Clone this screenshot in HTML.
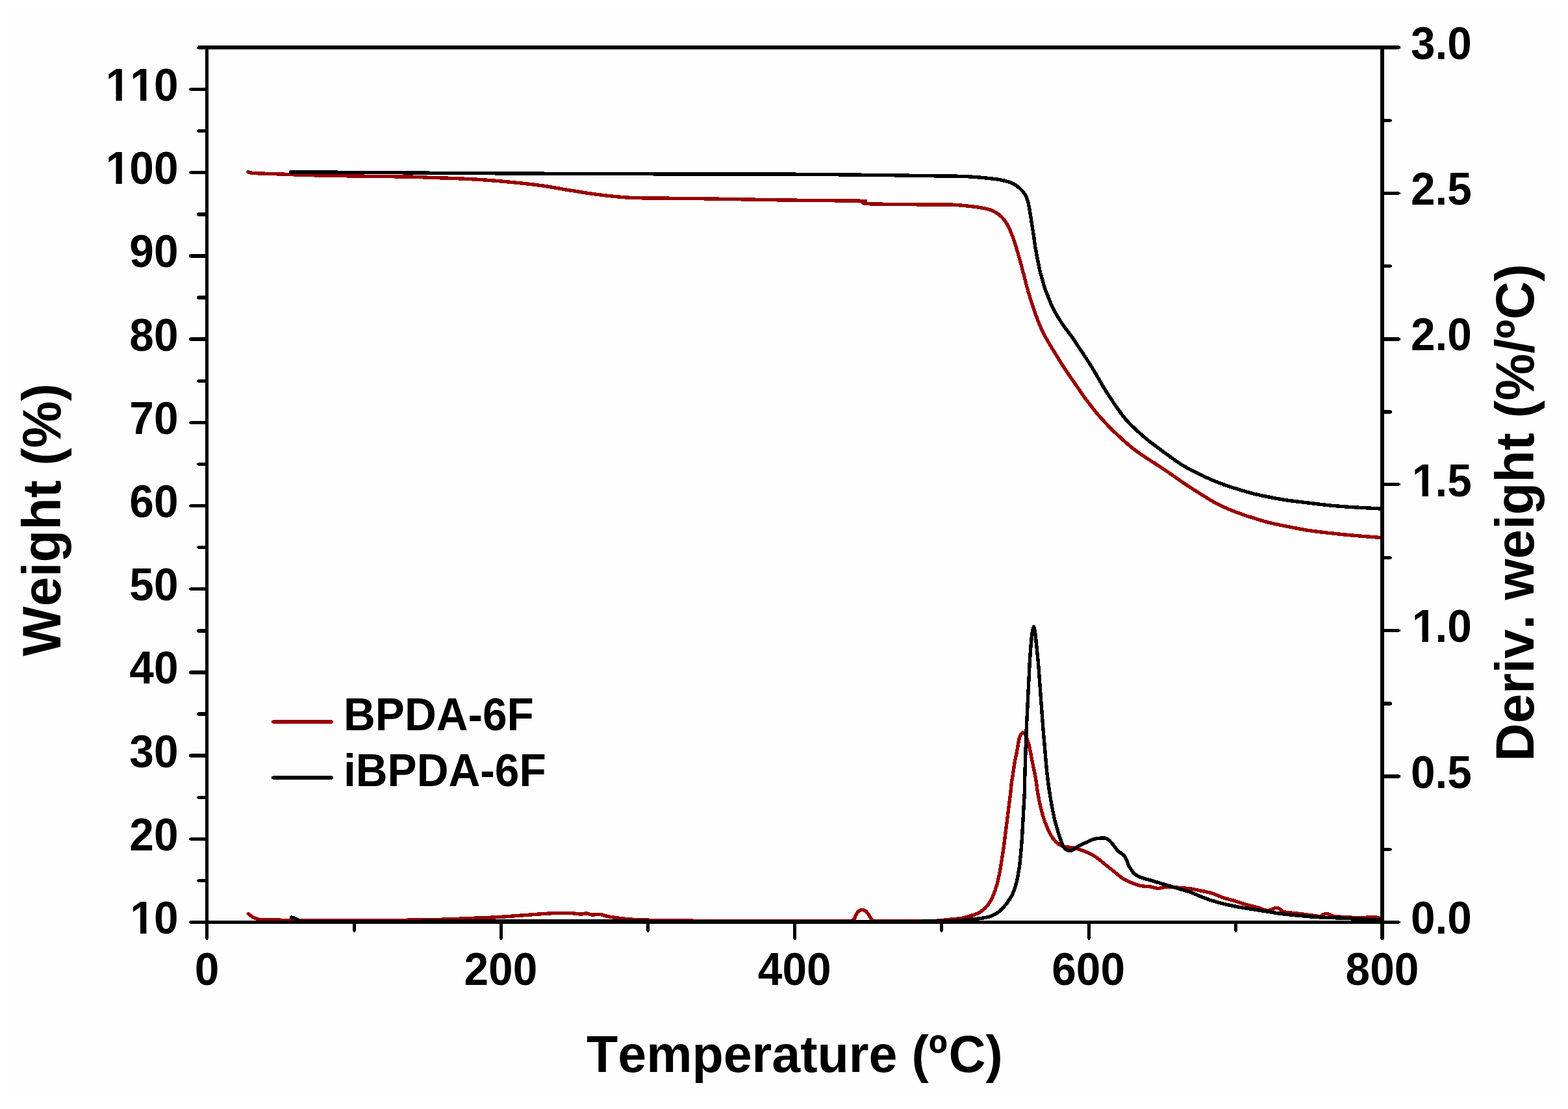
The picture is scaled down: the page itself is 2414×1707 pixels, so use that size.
<!DOCTYPE html>
<html lang="en"><head><meta charset="utf-8"><title>TGA / DTG curves of BPDA-6F and iBPDA-6F</title>
<style>
html,body{margin:0;padding:0;background:#fff;}
body{width:2414px;height:1707px;overflow:hidden;}
svg{display:block;}
svg text{font-family:"Liberation Sans",Arial,Helvetica,sans-serif;font-weight:bold;fill:#000;font-kerning:none;font-variant-ligatures:none;}
.tk{font-size:67.6px;}
.ti{font-size:80px;}
.ax{stroke:#000;stroke-width:5.4;fill:none;}
.cv{fill:none;stroke-width:5.4;stroke-linejoin:round;stroke-linecap:round;}
</style></head><body>
<svg width="2414" height="1707" viewBox="0 0 2414 1707">
<rect x="0" y="0" width="2414" height="1707" fill="#ffffff"/>
<rect x="12" y="19" width="2390" height="1669" fill="#fefefe"/>
<defs><clipPath id="plot"><rect x="318.5" y="73.0" width="1809.5" height="1349.5"/></clipPath></defs>
<g clip-path="url(#plot)" shape-rendering="crispEdges">
<path class="cv" stroke="#990000" d="M382.0 264.6 C382.3 264.8 383.0 265.3 384.0 265.6 C385.0 265.9 386.5 266.0 388.0 266.2 C389.5 266.4 390.2 266.5 393.0 266.6 C395.8 266.8 398.5 266.9 405.0 267.1 C411.5 267.3 422.8 267.7 432.0 268.0 C441.2 268.3 449.5 268.8 460.0 269.1 C470.5 269.5 477.2 269.7 495.0 270.1 C512.8 270.5 543.5 271.0 567.0 271.3 C590.5 271.6 620.5 271.9 636.0 272.2 C651.5 272.5 648.7 272.9 660.0 273.3 C671.3 273.7 689.1 274.1 703.6 274.7 C718.1 275.3 732.5 276.0 747.0 277.0 C761.5 278.0 776.2 279.4 790.7 280.8 C805.2 282.2 819.5 283.7 834.0 285.7 C848.5 287.7 863.3 290.7 877.8 293.0 C892.3 295.3 906.5 297.8 921.0 299.6 C935.5 301.4 950.5 303.1 965.0 304.0 C979.5 304.9 992.2 304.9 1008.0 305.1 C1023.8 305.3 1039.7 305.1 1060.0 305.4 C1080.3 305.6 1105.5 306.2 1130.0 306.6 C1154.5 307.0 1174.8 307.6 1207.0 308.0 C1239.2 308.4 1303.7 308.9 1323.5 309.2 C1343.3 309.5 1325.1 309.4 1326.0 310.0 C1326.9 310.6 1328.0 312.1 1329.0 312.6 C1330.0 313.2 1328.5 313.1 1332.0 313.3 C1335.5 313.6 1333.7 313.8 1350.0 314.1 C1366.3 314.4 1410.6 314.8 1430.0 315.0 C1449.4 315.2 1455.7 314.8 1466.6 315.2 C1477.5 315.6 1487.2 316.8 1495.3 317.7 C1503.3 318.6 1509.5 319.5 1514.9 320.6 C1520.4 321.7 1524.1 322.6 1528.0 324.3 C1531.9 326.0 1535.2 328.1 1538.5 330.8 C1541.8 333.5 1545.0 337.0 1547.6 340.6 C1550.2 344.2 1552.1 348.3 1554.1 352.4 C1556.1 356.5 1557.7 360.6 1559.4 365.4 C1561.2 370.2 1563.0 375.9 1564.6 381.1 C1566.2 386.3 1567.7 391.4 1569.2 396.8 C1570.7 402.2 1572.2 408.1 1573.7 413.8 C1575.2 419.5 1577.2 426.4 1578.3 430.8 C1579.4 435.2 1579.4 435.9 1580.5 440.0 C1581.6 444.1 1583.3 450.0 1585.1 455.7 C1586.8 461.4 1588.9 467.9 1591.0 474.0 C1593.1 480.1 1595.1 486.2 1597.5 492.3 C1599.9 498.4 1602.5 504.7 1605.3 510.6 C1608.1 516.5 1611.2 521.9 1614.5 527.5 C1617.8 533.1 1621.4 538.8 1624.9 544.5 C1628.4 550.2 1631.9 556.0 1635.4 561.5 C1638.9 567.0 1642.1 571.8 1645.8 577.2 C1649.5 582.7 1653.7 588.5 1657.6 594.2 C1661.5 599.9 1665.3 605.5 1669.4 611.2 C1673.5 616.9 1679.0 623.8 1682.4 628.2 C1685.8 632.6 1686.5 633.8 1690.0 637.8 C1693.5 641.8 1698.8 647.6 1703.1 652.2 C1707.4 656.8 1709.6 659.2 1716.1 665.3 C1722.6 671.4 1733.6 681.8 1742.3 688.8 C1751.0 695.8 1759.7 701.2 1768.4 707.1 C1777.1 713.0 1785.8 718.2 1794.5 724.1 C1803.2 730.0 1812.0 736.5 1820.7 742.4 C1829.4 748.3 1838.1 754.0 1846.8 759.4 C1855.5 764.8 1864.2 770.4 1872.9 775.0 C1881.6 779.6 1890.4 783.3 1899.1 786.8 C1907.8 790.3 1916.5 793.1 1925.2 795.9 C1933.9 798.7 1942.2 801.4 1951.3 803.8 C1960.4 806.1 1969.4 807.9 1980.0 810.0 C1990.6 812.1 2003.2 814.7 2014.8 816.5 C2026.4 818.3 2038.1 819.5 2049.7 820.8 C2061.3 822.1 2071.8 823.2 2084.5 824.3 C2097.2 825.4 2119.1 827.0 2126.0 827.5"/>
<path class="cv" stroke="#990000" d="M382.3 1406.5 C382.9 1407.0 384.6 1408.5 386.0 1409.5 C387.4 1410.5 389.0 1411.6 391.0 1412.5 C393.0 1413.4 394.8 1414.4 398.0 1415.0 C401.2 1415.6 401.3 1415.8 410.0 1416.0 C418.7 1416.2 431.7 1416.2 450.0 1416.3 C468.3 1416.4 495.0 1416.6 520.0 1416.6 C545.0 1416.6 573.3 1416.7 600.0 1416.5 C626.7 1416.3 660.0 1415.7 680.0 1415.2 C700.0 1414.7 706.1 1414.2 720.0 1413.6 C733.9 1413.0 749.1 1412.6 763.6 1411.8 C778.1 1411.0 792.5 1409.7 807.0 1408.7 C821.5 1407.7 839.1 1406.2 850.7 1405.7 C862.3 1405.2 869.6 1405.2 876.8 1405.4 C884.0 1405.6 889.6 1406.9 894.0 1407.0 C898.4 1407.1 900.1 1405.7 903.0 1405.9 C905.9 1406.1 908.1 1407.7 911.6 1408.0 C915.1 1408.3 919.4 1407.0 923.8 1407.5 C928.2 1408.0 931.1 1409.8 937.8 1411.0 C944.5 1412.2 953.9 1413.5 964.0 1414.4 C974.1 1415.3 976.0 1415.7 998.7 1416.2 C1021.4 1416.7 1066.5 1417.3 1100.0 1417.5 C1133.5 1417.7 1166.7 1417.6 1200.0 1417.6 C1233.3 1417.6 1281.0 1417.9 1300.0 1417.6 C1319.0 1417.2 1310.8 1417.1 1313.8 1415.5 C1316.8 1413.9 1316.6 1410.2 1318.0 1408.0 C1319.4 1405.8 1320.4 1403.8 1322.0 1402.5 C1323.6 1401.2 1326.0 1400.5 1327.8 1400.5 C1329.6 1400.5 1331.4 1401.2 1333.0 1402.5 C1334.6 1403.8 1336.0 1405.9 1337.5 1408.0 C1339.0 1410.1 1340.2 1413.6 1342.0 1415.2 C1343.8 1416.8 1338.3 1417.0 1348.0 1417.4 C1357.7 1417.8 1384.5 1417.6 1400.0 1417.6 C1415.5 1417.6 1431.0 1417.7 1441.0 1417.3 C1451.0 1416.9 1453.5 1416.1 1460.0 1415.4 C1466.5 1414.8 1474.5 1414.3 1480.0 1413.4 C1485.5 1412.5 1488.8 1411.4 1493.1 1410.1 C1497.4 1408.8 1502.4 1407.3 1506.1 1405.5 C1509.8 1403.7 1512.5 1401.6 1515.3 1399.0 C1518.1 1396.4 1520.7 1393.6 1523.1 1389.9 C1525.5 1386.2 1527.7 1381.6 1529.7 1376.8 C1531.7 1372.0 1533.4 1366.5 1534.9 1361.1 C1536.4 1355.6 1537.6 1350.2 1538.8 1344.1 C1540.0 1338.0 1541.0 1331.2 1542.1 1324.5 C1543.2 1317.8 1544.3 1310.6 1545.3 1303.6 C1546.3 1296.6 1547.0 1289.7 1547.9 1282.7 C1548.8 1275.7 1549.7 1268.8 1550.6 1261.8 C1551.5 1254.8 1552.3 1247.9 1553.2 1240.9 C1554.1 1233.9 1555.2 1225.4 1555.8 1220.0 C1556.4 1214.6 1556.3 1213.4 1556.9 1208.6 C1557.5 1203.8 1558.6 1197.2 1559.5 1191.4 C1560.4 1185.7 1561.1 1179.8 1562.1 1174.1 C1563.1 1168.3 1564.3 1163.0 1565.5 1156.9 C1566.7 1150.8 1567.9 1142.0 1569.0 1137.5 C1570.1 1133.0 1571.0 1131.6 1572.0 1130.0 C1573.0 1128.4 1574.0 1128.0 1575.0 1128.0 C1576.0 1128.0 1577.0 1128.6 1578.0 1130.0 C1579.0 1131.4 1579.9 1133.5 1581.0 1136.5 C1582.1 1139.5 1583.3 1143.5 1584.5 1148.3 C1585.7 1153.1 1586.8 1159.8 1587.9 1165.5 C1589.1 1171.2 1590.2 1177.0 1591.4 1182.8 C1592.6 1188.5 1593.8 1193.8 1594.8 1200.0 C1595.8 1206.2 1596.5 1213.4 1597.6 1220.0 C1598.7 1226.6 1600.0 1233.1 1601.5 1239.6 C1603.0 1246.1 1604.7 1253.1 1606.7 1259.2 C1608.7 1265.3 1610.9 1271.0 1613.3 1276.2 C1615.7 1281.4 1618.3 1286.7 1621.1 1290.6 C1623.9 1294.5 1627.0 1297.5 1630.3 1299.7 C1633.6 1301.9 1637.0 1302.7 1640.7 1303.6 C1644.4 1304.5 1648.4 1304.0 1652.5 1304.9 C1656.6 1305.8 1661.2 1307.4 1665.5 1308.9 C1669.8 1310.4 1674.7 1312.1 1678.6 1314.1 C1682.5 1316.0 1685.2 1317.8 1689.1 1320.6 C1693.0 1323.4 1697.8 1327.6 1702.1 1331.1 C1706.4 1334.6 1710.8 1338.0 1715.2 1341.5 C1719.6 1345.0 1724.1 1349.2 1728.3 1352.0 C1732.5 1354.8 1735.9 1356.3 1740.5 1358.2 C1745.1 1360.1 1750.9 1362.4 1756.1 1363.5 C1761.3 1364.6 1767.4 1364.3 1771.8 1365.0 C1776.2 1365.7 1779.2 1367.2 1782.3 1367.4 C1785.3 1367.6 1787.5 1366.4 1790.1 1366.1 C1792.7 1365.8 1793.2 1365.2 1798.0 1365.3 C1802.8 1365.4 1812.8 1366.1 1818.9 1366.6 C1825.0 1367.1 1829.3 1367.4 1834.5 1368.2 C1839.7 1369.0 1844.8 1370.2 1850.0 1371.3 C1855.2 1372.4 1860.3 1373.2 1865.8 1374.9 C1871.3 1376.7 1877.4 1379.8 1883.2 1381.8 C1889.0 1383.8 1894.9 1384.8 1900.7 1386.6 C1906.5 1388.3 1912.3 1390.6 1918.1 1392.3 C1923.9 1394.0 1930.2 1395.2 1935.5 1396.7 C1940.8 1398.2 1946.4 1400.7 1950.0 1401.3 C1953.6 1401.9 1954.5 1400.9 1957.0 1400.2 C1959.5 1399.5 1962.6 1397.3 1964.9 1397.2 C1967.2 1397.1 1968.9 1398.6 1971.0 1399.7 C1973.1 1400.8 1972.5 1402.7 1977.3 1403.8 C1982.1 1404.9 1991.8 1405.3 1999.7 1406.3 C2007.6 1407.3 2019.0 1408.9 2024.5 1409.6 C2030.0 1410.3 2030.7 1410.7 2032.8 1410.4 C2034.9 1410.1 2035.5 1408.4 2037.0 1407.7 C2038.5 1407.0 2040.2 1406.3 2041.9 1406.3 C2043.6 1406.3 2045.1 1407.0 2047.0 1407.7 C2048.9 1408.4 2049.0 1409.7 2053.5 1410.4 C2058.0 1411.1 2067.3 1411.3 2074.2 1411.7 C2081.1 1412.1 2088.3 1413.0 2094.9 1412.9 C2101.5 1412.8 2108.7 1411.2 2113.9 1411.3 C2119.1 1411.4 2124.0 1413.3 2126.0 1413.7"/>
<path class="cv" stroke="#000" d="M447.3 265.0 C459.4 265.0 494.6 265.1 520.0 265.2 C545.5 265.3 575.0 265.4 600.0 265.6 C625.0 265.8 643.3 266.1 670.0 266.3 C696.7 266.5 721.7 266.6 760.0 266.8 C798.3 267.0 851.7 267.3 900.0 267.5 C948.3 267.7 1000.0 267.8 1050.0 267.9 C1100.0 268.0 1160.0 267.9 1200.0 268.0 C1240.0 268.1 1261.7 268.5 1290.0 268.8 C1318.3 269.1 1346.7 269.4 1370.0 269.7 C1393.3 270.0 1411.3 270.4 1430.0 270.7 C1448.7 271.0 1469.2 271.0 1482.3 271.4 C1495.4 271.8 1499.7 272.4 1508.4 273.1 C1517.1 273.9 1528.0 275.0 1534.5 275.9 C1541.0 276.8 1543.2 277.3 1547.6 278.5 C1552.0 279.7 1556.8 281.0 1560.7 283.1 C1564.6 285.2 1568.3 288.4 1571.1 291.0 C1573.9 293.6 1575.8 295.8 1577.7 298.8 C1579.6 301.9 1581.0 305.6 1582.2 309.3 C1583.4 313.0 1583.8 315.6 1584.8 321.0 C1585.8 326.4 1587.0 334.9 1588.1 341.9 C1589.2 348.9 1590.4 356.3 1591.4 362.8 C1592.4 369.3 1592.9 374.6 1594.0 381.1 C1595.1 387.6 1596.7 395.9 1597.9 402.0 C1599.1 408.1 1599.9 412.5 1601.2 417.7 C1602.5 422.9 1604.7 429.7 1605.7 433.4 C1606.7 437.1 1606.0 436.3 1607.3 440.0 C1608.5 443.7 1611.1 450.5 1613.2 455.7 C1615.3 460.9 1617.1 466.0 1619.7 471.4 C1622.3 476.8 1625.6 482.9 1628.9 488.3 C1632.2 493.7 1635.6 498.8 1639.3 504.0 C1643.0 509.2 1647.4 514.5 1651.1 519.7 C1654.8 524.9 1658.0 530.2 1661.5 535.4 C1665.0 540.6 1668.7 546.1 1672.0 551.1 C1675.3 556.1 1678.0 560.4 1681.1 565.4 C1684.1 570.4 1687.2 575.9 1690.3 581.1 C1693.3 586.3 1696.4 591.8 1699.4 596.8 C1702.5 601.8 1704.9 605.7 1708.6 611.2 C1712.3 616.7 1717.1 624.0 1721.4 630.0 C1725.7 636.0 1729.8 641.8 1734.4 647.0 C1739.0 652.2 1743.1 656.2 1748.8 661.4 C1754.5 666.6 1760.8 672.2 1768.4 678.3 C1776.0 684.4 1785.8 691.6 1794.5 697.9 C1803.2 704.2 1812.0 710.9 1820.7 716.2 C1829.4 721.6 1838.1 725.8 1846.8 730.0 C1855.5 734.2 1864.2 738.2 1872.9 741.7 C1881.6 745.2 1890.4 748.1 1899.1 750.9 C1907.8 753.7 1916.5 756.4 1925.2 758.7 C1933.9 761.0 1942.2 762.8 1951.3 764.6 C1960.4 766.5 1969.4 768.2 1980.0 769.8 C1990.6 771.4 2003.2 772.7 2014.8 774.1 C2026.4 775.5 2038.1 777.1 2049.7 778.2 C2061.3 779.3 2071.8 780.0 2084.5 780.8 C2097.2 781.6 2119.1 782.6 2126.0 783.0"/>
<path class="cv" stroke="#000" d="M448.5 1412.0 C449.1 1412.1 450.8 1412.2 452.0 1412.6 C453.2 1413.0 454.3 1413.7 456.0 1414.5 C457.7 1415.3 459.7 1417.0 462.0 1417.6 C464.3 1418.2 447.0 1418.2 470.0 1418.3 C493.0 1418.4 545.0 1418.3 600.0 1418.3 C655.0 1418.2 733.3 1418.0 800.0 1418.0 C866.7 1418.0 933.3 1418.2 1000.0 1418.2 C1066.7 1418.2 1133.3 1418.3 1200.0 1418.3 C1266.7 1418.3 1356.7 1418.4 1400.0 1418.3 C1443.3 1418.2 1446.7 1417.9 1460.0 1417.6 C1473.3 1417.3 1472.3 1417.0 1480.0 1416.4 C1487.7 1415.8 1499.1 1414.8 1506.1 1414.0 C1513.1 1413.2 1517.0 1412.8 1521.8 1411.4 C1526.6 1410.0 1531.0 1408.0 1534.9 1405.5 C1538.8 1403.0 1542.2 1399.7 1545.3 1396.4 C1548.3 1393.1 1550.8 1389.6 1553.2 1385.9 C1555.6 1382.2 1557.8 1378.8 1559.7 1374.2 C1561.7 1369.6 1563.4 1364.6 1564.9 1358.5 C1566.4 1352.4 1567.8 1345.0 1568.9 1337.6 C1570.0 1330.2 1570.8 1321.9 1571.5 1314.1 C1572.2 1306.3 1572.9 1298.4 1573.4 1290.6 C1573.9 1282.8 1574.3 1274.8 1574.7 1267.0 C1575.1 1259.2 1575.6 1251.3 1576.0 1243.5 C1576.4 1235.7 1577.0 1228.7 1577.3 1220.0 C1577.6 1211.3 1577.6 1201.9 1577.9 1191.4 C1578.2 1180.9 1578.6 1168.4 1579.0 1156.9 C1579.4 1145.4 1579.7 1133.9 1580.2 1122.4 C1580.7 1110.9 1581.3 1099.4 1581.9 1087.9 C1582.5 1076.4 1583.0 1064.9 1583.6 1053.4 C1584.2 1041.9 1584.6 1030.5 1585.3 1019.0 C1586.0 1007.5 1587.2 992.6 1587.9 984.5 C1588.6 976.4 1589.0 973.8 1589.6 970.5 C1590.2 967.2 1590.8 964.8 1591.4 964.8 C1592.0 964.8 1592.6 967.2 1593.2 970.5 C1593.8 973.8 1594.0 976.4 1594.8 984.5 C1595.6 992.6 1597.3 1007.5 1598.3 1019.0 C1599.3 1030.5 1600.1 1041.9 1600.9 1053.4 C1601.8 1064.9 1602.6 1076.4 1603.4 1087.9 C1604.2 1099.4 1605.1 1110.9 1606.0 1122.4 C1606.9 1133.9 1608.0 1145.4 1609.0 1156.9 C1610.0 1168.4 1610.9 1180.9 1612.1 1191.4 C1613.2 1201.9 1614.7 1212.0 1615.9 1220.0 C1617.1 1228.0 1618.0 1233.1 1619.2 1239.6 C1620.4 1246.1 1621.7 1253.1 1623.1 1259.2 C1624.5 1265.3 1626.2 1271.0 1627.7 1276.2 C1629.2 1281.4 1630.7 1286.2 1632.2 1290.6 C1633.7 1294.9 1635.2 1299.4 1636.8 1302.3 C1638.4 1305.2 1639.8 1307.1 1642.0 1308.2 C1644.2 1309.3 1647.5 1309.6 1649.9 1309.1 C1652.3 1308.5 1653.8 1306.5 1656.4 1304.9 C1659.0 1303.3 1662.2 1301.3 1665.5 1299.7 C1668.8 1298.1 1673.0 1296.4 1676.0 1295.1 C1679.0 1293.8 1681.2 1292.4 1683.8 1291.6 C1686.4 1290.8 1688.7 1290.5 1691.7 1290.3 C1694.8 1290.1 1699.3 1289.6 1702.1 1290.3 C1704.9 1291.0 1706.5 1292.5 1708.7 1294.5 C1710.9 1296.5 1713.0 1299.7 1715.2 1302.3 C1717.4 1304.9 1719.1 1307.7 1721.7 1310.2 C1724.3 1312.7 1728.6 1314.6 1730.9 1317.3 C1733.2 1320.0 1734.3 1324.0 1735.5 1326.5 C1736.7 1329.0 1736.1 1329.7 1737.8 1332.6 C1739.5 1335.5 1742.7 1341.1 1745.7 1344.1 C1748.8 1347.1 1751.8 1348.6 1756.1 1350.4 C1760.4 1352.2 1766.6 1353.5 1771.8 1355.1 C1777.0 1356.7 1782.3 1358.2 1787.5 1359.8 C1792.7 1361.4 1798.0 1362.9 1803.2 1364.5 C1808.4 1366.1 1813.7 1367.6 1818.9 1369.2 C1824.1 1370.8 1829.3 1372.0 1834.5 1373.9 C1839.7 1375.8 1843.3 1378.1 1850.0 1380.6 C1856.7 1383.1 1866.0 1386.4 1874.5 1388.8 C1883.0 1391.2 1892.0 1393.2 1900.7 1394.9 C1909.4 1396.7 1918.6 1398.0 1926.8 1399.3 C1935.0 1400.6 1942.0 1401.8 1950.0 1403.0 C1958.0 1404.2 1966.5 1405.8 1974.8 1406.8 C1983.1 1407.8 1991.4 1408.5 1999.7 1409.3 C2008.0 1410.1 2016.2 1410.9 2024.5 1411.4 C2032.8 1412.0 2041.0 1412.2 2049.3 1412.6 C2057.6 1412.9 2065.9 1413.1 2074.2 1413.5 C2082.5 1413.9 2090.4 1414.7 2099.0 1415.1 C2107.6 1415.5 2121.5 1415.8 2126.0 1416.0"/>
</g>
<g class="ax" shape-rendering="crispEdges">
<line x1="305.3" y1="73.00" x2="2153.7" y2="73.00"/>
<line x1="2153.7" y1="73.00" x2="2155.7" y2="73.00" stroke-width="3.4000000000000004"/>
<line x1="318.5" y1="1419.50" x2="2128.0" y2="1419.50"/>
<line x1="318.50" y1="73.0" x2="318.50" y2="1419.5"/>
<line x1="2128.00" y1="73.0" x2="2128.00" y2="1419.5"/>
<line x1="318.5" y1="137.50" x2="292.8" y2="137.50"/>
<line x1="292.8" y1="137.50" x2="290.8" y2="137.50" stroke-width="3.4000000000000004"/>
<line x1="318.5" y1="265.70" x2="292.8" y2="265.70"/>
<line x1="292.8" y1="265.70" x2="290.8" y2="265.70" stroke-width="3.4000000000000004"/>
<line x1="318.5" y1="393.90" x2="292.8" y2="393.90"/>
<line x1="292.8" y1="393.90" x2="290.8" y2="393.90" stroke-width="3.4000000000000004"/>
<line x1="318.5" y1="522.10" x2="292.8" y2="522.10"/>
<line x1="292.8" y1="522.10" x2="290.8" y2="522.10" stroke-width="3.4000000000000004"/>
<line x1="318.5" y1="650.30" x2="292.8" y2="650.30"/>
<line x1="292.8" y1="650.30" x2="290.8" y2="650.30" stroke-width="3.4000000000000004"/>
<line x1="318.5" y1="778.50" x2="292.8" y2="778.50"/>
<line x1="292.8" y1="778.50" x2="290.8" y2="778.50" stroke-width="3.4000000000000004"/>
<line x1="318.5" y1="906.70" x2="292.8" y2="906.70"/>
<line x1="292.8" y1="906.70" x2="290.8" y2="906.70" stroke-width="3.4000000000000004"/>
<line x1="318.5" y1="1034.90" x2="292.8" y2="1034.90"/>
<line x1="292.8" y1="1034.90" x2="290.8" y2="1034.90" stroke-width="3.4000000000000004"/>
<line x1="318.5" y1="1163.10" x2="292.8" y2="1163.10"/>
<line x1="292.8" y1="1163.10" x2="290.8" y2="1163.10" stroke-width="3.4000000000000004"/>
<line x1="318.5" y1="1291.30" x2="292.8" y2="1291.30"/>
<line x1="292.8" y1="1291.30" x2="290.8" y2="1291.30" stroke-width="3.4000000000000004"/>
<line x1="318.5" y1="1419.50" x2="292.8" y2="1419.50"/>
<line x1="292.8" y1="1419.50" x2="290.8" y2="1419.50" stroke-width="3.4000000000000004"/>
<line x1="318.5" y1="73.40" x2="305.3" y2="73.40"/>
<line x1="305.3" y1="73.40" x2="303.3" y2="73.40" stroke-width="3.4000000000000004"/>
<line x1="318.5" y1="201.60" x2="305.3" y2="201.60"/>
<line x1="305.3" y1="201.60" x2="303.3" y2="201.60" stroke-width="3.4000000000000004"/>
<line x1="318.5" y1="329.80" x2="305.3" y2="329.80"/>
<line x1="305.3" y1="329.80" x2="303.3" y2="329.80" stroke-width="3.4000000000000004"/>
<line x1="318.5" y1="458.00" x2="305.3" y2="458.00"/>
<line x1="305.3" y1="458.00" x2="303.3" y2="458.00" stroke-width="3.4000000000000004"/>
<line x1="318.5" y1="586.20" x2="305.3" y2="586.20"/>
<line x1="305.3" y1="586.20" x2="303.3" y2="586.20" stroke-width="3.4000000000000004"/>
<line x1="318.5" y1="714.40" x2="305.3" y2="714.40"/>
<line x1="305.3" y1="714.40" x2="303.3" y2="714.40" stroke-width="3.4000000000000004"/>
<line x1="318.5" y1="842.60" x2="305.3" y2="842.60"/>
<line x1="305.3" y1="842.60" x2="303.3" y2="842.60" stroke-width="3.4000000000000004"/>
<line x1="318.5" y1="970.80" x2="305.3" y2="970.80"/>
<line x1="305.3" y1="970.80" x2="303.3" y2="970.80" stroke-width="3.4000000000000004"/>
<line x1="318.5" y1="1099.00" x2="305.3" y2="1099.00"/>
<line x1="305.3" y1="1099.00" x2="303.3" y2="1099.00" stroke-width="3.4000000000000004"/>
<line x1="318.5" y1="1227.20" x2="305.3" y2="1227.20"/>
<line x1="305.3" y1="1227.20" x2="303.3" y2="1227.20" stroke-width="3.4000000000000004"/>
<line x1="318.5" y1="1355.40" x2="305.3" y2="1355.40"/>
<line x1="305.3" y1="1355.40" x2="303.3" y2="1355.40" stroke-width="3.4000000000000004"/>
<line x1="2128.0" y1="1419.50" x2="2153.7" y2="1419.50"/>
<line x1="2153.7" y1="1419.50" x2="2155.7" y2="1419.50" stroke-width="3.4000000000000004"/>
<line x1="2128.0" y1="1195.08" x2="2153.7" y2="1195.08"/>
<line x1="2153.7" y1="1195.08" x2="2155.7" y2="1195.08" stroke-width="3.4000000000000004"/>
<line x1="2128.0" y1="970.67" x2="2153.7" y2="970.67"/>
<line x1="2153.7" y1="970.67" x2="2155.7" y2="970.67" stroke-width="3.4000000000000004"/>
<line x1="2128.0" y1="745.35" x2="2153.7" y2="745.35"/>
<line x1="2153.7" y1="745.35" x2="2155.7" y2="745.35" stroke-width="3.4000000000000004"/>
<line x1="2128.0" y1="521.83" x2="2153.7" y2="521.83"/>
<line x1="2153.7" y1="521.83" x2="2155.7" y2="521.83" stroke-width="3.4000000000000004"/>
<line x1="2128.0" y1="297.42" x2="2153.7" y2="297.42"/>
<line x1="2153.7" y1="297.42" x2="2155.7" y2="297.42" stroke-width="3.4000000000000004"/>
<line x1="2128.0" y1="1307.29" x2="2141.2" y2="1307.29"/>
<line x1="2141.2" y1="1307.29" x2="2143.2" y2="1307.29" stroke-width="3.4000000000000004"/>
<line x1="2128.0" y1="1082.88" x2="2141.2" y2="1082.88"/>
<line x1="2141.2" y1="1082.88" x2="2143.2" y2="1082.88" stroke-width="3.4000000000000004"/>
<line x1="2128.0" y1="858.46" x2="2141.2" y2="858.46"/>
<line x1="2141.2" y1="858.46" x2="2143.2" y2="858.46" stroke-width="3.4000000000000004"/>
<line x1="2128.0" y1="634.04" x2="2141.2" y2="634.04"/>
<line x1="2141.2" y1="634.04" x2="2143.2" y2="634.04" stroke-width="3.4000000000000004"/>
<line x1="2128.0" y1="409.62" x2="2141.2" y2="409.62"/>
<line x1="2141.2" y1="409.62" x2="2143.2" y2="409.62" stroke-width="3.4000000000000004"/>
<line x1="2128.0" y1="185.21" x2="2141.2" y2="185.21"/>
<line x1="2141.2" y1="185.21" x2="2143.2" y2="185.21" stroke-width="3.4000000000000004"/>
<line x1="318.50" y1="1419.5" x2="318.50" y2="1445.2"/>
<line x1="318.50" y1="1445.2" x2="318.50" y2="1447.2" stroke-width="3.4000000000000004"/>
<line x1="771.50" y1="1419.5" x2="771.50" y2="1445.2" stroke-width="5"/>
<line x1="771.50" y1="1445.2" x2="771.50" y2="1447.2" stroke-width="3"/>
<line x1="1223.50" y1="1419.5" x2="1223.50" y2="1445.2" stroke-width="5"/>
<line x1="1223.50" y1="1445.2" x2="1223.50" y2="1447.2" stroke-width="3"/>
<line x1="1676.50" y1="1419.5" x2="1676.50" y2="1445.2" stroke-width="5"/>
<line x1="1676.50" y1="1445.2" x2="1676.50" y2="1447.2" stroke-width="3"/>
<line x1="2128.00" y1="1419.5" x2="2128.00" y2="1445.2"/>
<line x1="2128.00" y1="1445.2" x2="2128.00" y2="1447.2" stroke-width="3.4000000000000004"/>
<line x1="545.50" y1="1419.5" x2="545.50" y2="1432.7" stroke-width="5"/>
<line x1="545.50" y1="1432.7" x2="545.50" y2="1434.7" stroke-width="3"/>
<line x1="997.50" y1="1419.5" x2="997.50" y2="1432.7" stroke-width="5"/>
<line x1="997.50" y1="1432.7" x2="997.50" y2="1434.7" stroke-width="3"/>
<line x1="1449.50" y1="1419.5" x2="1449.50" y2="1432.7" stroke-width="5"/>
<line x1="1449.50" y1="1432.7" x2="1449.50" y2="1434.7" stroke-width="3"/>
<line x1="1902.50" y1="1419.5" x2="1902.50" y2="1432.7" stroke-width="5"/>
<line x1="1902.50" y1="1432.7" x2="1902.50" y2="1434.7" stroke-width="3"/>
</g>
<text class="tk" transform="translate(0 155.00) scale(1 1.035)" x="162.71 200.31 236.90">110</text>
<rect x="165.47" y="146.56" width="13.02" height="9.94" fill="#fefefe"/>
<rect x="187.77" y="146.56" width="12.16" height="9.94" fill="#fefefe"/>
<rect x="203.07" y="146.56" width="13.02" height="9.94" fill="#fefefe"/>
<rect x="225.36" y="146.56" width="12.16" height="9.94" fill="#fefefe"/>
<text class="tk" transform="translate(0 283.20) scale(1 1.035)" x="162.71 199.31 236.90">100</text>
<rect x="165.47" y="274.76" width="13.02" height="9.94" fill="#fefefe"/>
<rect x="187.77" y="274.76" width="12.16" height="9.94" fill="#fefefe"/>
<text class="tk" transform="translate(0 411.40) scale(1 1.035)" x="199.31 236.90">90</text>
<text class="tk" transform="translate(0 539.60) scale(1 1.035)" x="199.31 236.90">80</text>
<text class="tk" transform="translate(0 667.80) scale(1 1.035)" x="199.31 236.90">70</text>
<text class="tk" transform="translate(0 796.00) scale(1 1.035)" x="199.31 236.90">60</text>
<text class="tk" transform="translate(0 924.20) scale(1 1.035)" x="199.31 236.90">50</text>
<text class="tk" transform="translate(0 1052.40) scale(1 1.035)" x="199.31 236.90">40</text>
<text class="tk" transform="translate(0 1180.60) scale(1 1.035)" x="199.31 236.90">30</text>
<text class="tk" transform="translate(0 1308.80) scale(1 1.035)" x="199.31 236.90">20</text>
<text class="tk" transform="translate(0 1437.00) scale(1 1.035)" x="200.31 236.90">10</text>
<rect x="203.07" y="1428.56" width="13.02" height="9.94" fill="#fefefe"/>
<rect x="225.36" y="1428.56" width="12.16" height="9.94" fill="#fefefe"/>
<text class="tk" transform="translate(0 1437.00) scale(1 1.035)" x="2172.00 2209.60 2228.38">0.0</text>
<text class="tk" transform="translate(0 1212.58) scale(1 1.035)" x="2172.00 2209.60 2228.38">0.5</text>
<text class="tk" transform="translate(0 988.17) scale(1 1.035)" x="2173.80 2209.60 2228.38">1.0</text>
<rect x="2176.56" y="979.73" width="13.02" height="9.94" fill="#fefefe"/>
<rect x="2198.85" y="979.73" width="12.16" height="9.94" fill="#fefefe"/>
<text class="tk" transform="translate(0 763.75) scale(1 1.035)" x="2173.80 2209.60 2228.38">1.5</text>
<rect x="2176.56" y="755.31" width="13.02" height="9.94" fill="#fefefe"/>
<rect x="2198.85" y="755.31" width="12.16" height="9.94" fill="#fefefe"/>
<text class="tk" transform="translate(0 539.33) scale(1 1.035)" x="2172.00 2209.60 2228.38">2.0</text>
<text class="tk" transform="translate(0 314.92) scale(1 1.035)" x="2172.00 2209.60 2228.38">2.5</text>
<text class="tk" transform="translate(0 90.50) scale(1 1.035)" x="2172.00 2209.60 2228.38">3.0</text>
<text class="tk" transform="translate(318.50 1516.00) scale(1 1.035)" text-anchor="middle">0</text>
<text class="tk" transform="translate(770.88 1516.00) scale(1 1.035)" text-anchor="middle">200</text>
<text class="tk" transform="translate(1223.25 1516.00) scale(1 1.035)" text-anchor="middle">400</text>
<text class="tk" transform="translate(1675.62 1516.00) scale(1 1.035)" text-anchor="middle">600</text>
<text class="tk" transform="translate(2128.00 1516.00) scale(1 1.035)" text-anchor="middle">800</text>
<g fill="#990000" shape-rendering="crispEdges"><rect x="420" y="1108" width="91" height="6"/><rect x="418" y="1109" width="95" height="4"/></g>
<g fill="#000" shape-rendering="crispEdges"><rect x="420" y="1194" width="91" height="6"/><rect x="418" y="1195" width="95" height="4"/></g>
<text class="tk" transform="translate(529.00 1124.30) scale(1 1.035)" text-anchor="start">BPDA-6F</text>
<text class="tk" transform="translate(529.00 1209.90) scale(1 1.035)" text-anchor="start">iBPDA-6F</text>
<text class="ti" transform="translate(903.00 1650.40) scale(1 1.015)" text-anchor="start" style="font-size:79px">Temperature (º<tspan dx="2">C)</tspan></text>
<text class="ti" transform="translate(93.30 1010.00) rotate(-90) scale(1 1.015)" text-anchor="start" style="font-size:81.3px">Weight (%)</text>
<text class="ti" transform="translate(2361.40 1172.00) rotate(-90) scale(1 1.015)" text-anchor="start" style="font-size:81.3px">Deriv. weight (%/ºC)</text>
</svg>
</body></html>
